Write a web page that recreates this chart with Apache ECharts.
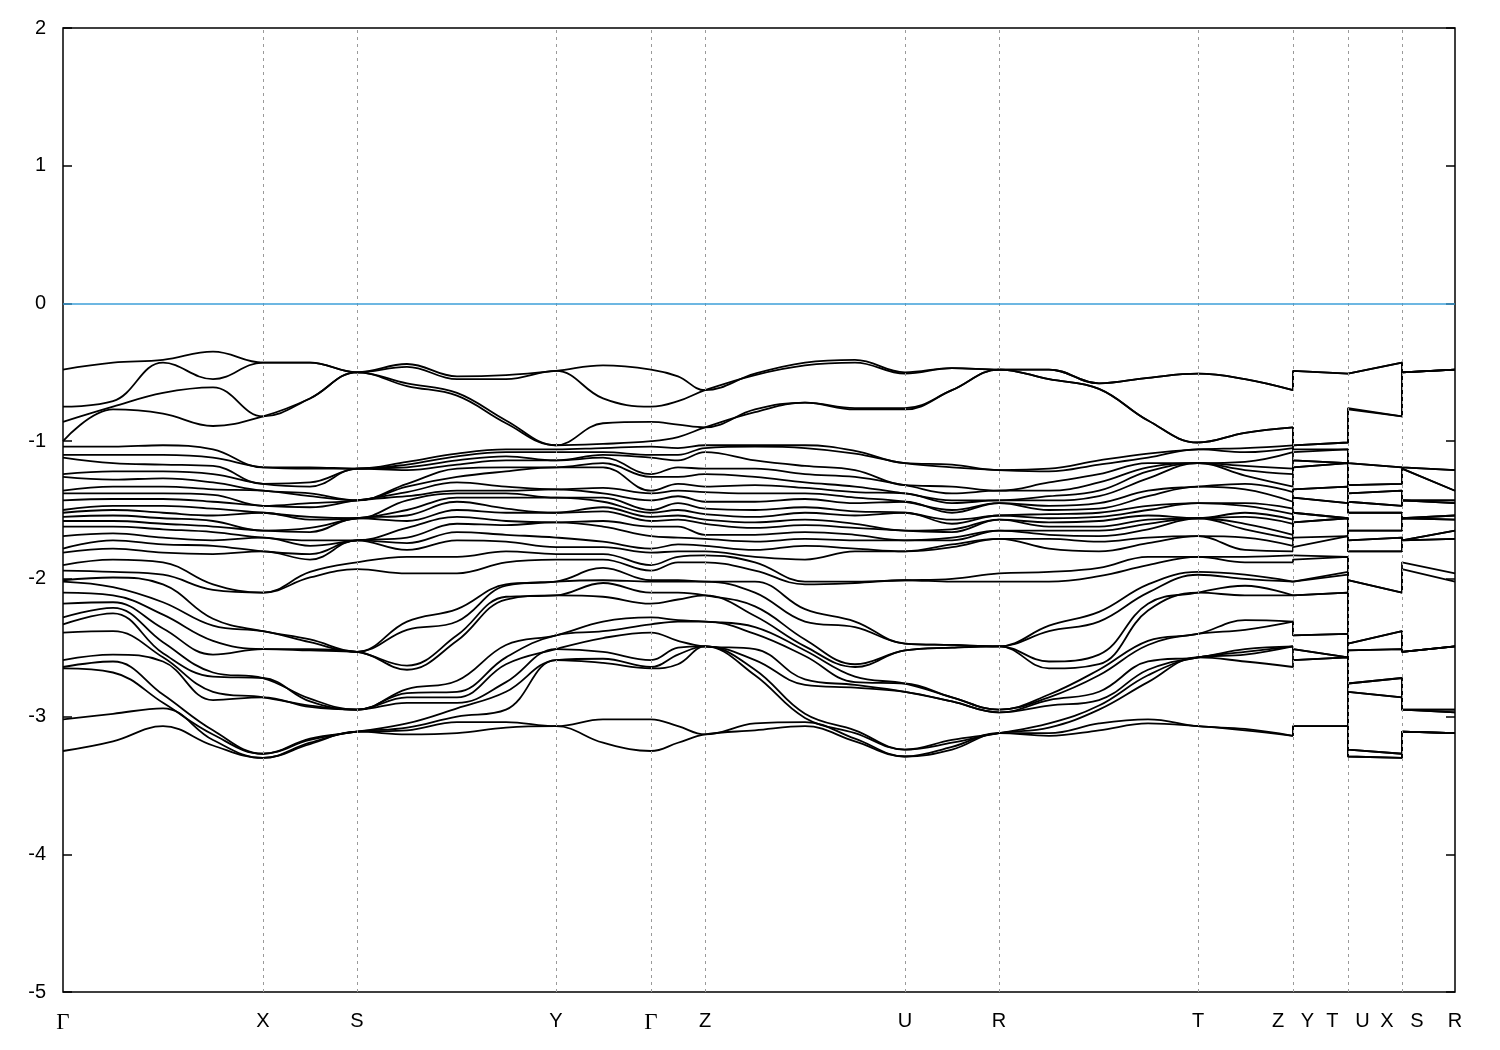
<!DOCTYPE html>
<html><head><meta charset="utf-8">
<script src="https://cdn.jsdelivr.net/npm/echarts@6/dist/echarts.min.js"></script>
<style>html,body{margin:0;padding:0;background:#fff}#c{width:1500px;height:1050px}</style>
</head><body><div id="c"></div>
<script>
// high-symmetry points along the k-path
const kTicks = [0, 200, 294, 493, 588, 642, 842, 936, 1135, 1230, 1285, 1339, 1392];
const tickLabels = ['Γ', 'X', 'S', 'Y', 'Γ', 'Z', 'U', 'R', 'T', 'Z|Y', 'T|U', 'X|S', 'R'];
// k positions of the sampled points on the continuous path Γ-X-S-Y-Γ-Z-U-R-T-Z
const kMain = [0, 50, 100, 150, 200, 247, 294, 344, 394, 443, 493, 540, 588, 615, 642, 692, 742, 792, 842, 889, 936, 986, 1036, 1085, 1135, 1182, 1230];

// band energies (eV) at each sampled k point, bands sorted from top to bottom
const e00 = [-0.48,-0.75,-0.86,-1.00, -1.04,-1.10,-1.12,-1.24,-1.26,-1.36,-1.38,-1.43,-1.50,-1.52,-1.55,-1.58,-1.62,-1.69,-1.78,-1.81, -1.90,-1.94,-2.01,-2.02,-2.10,-2.18,-2.28,-2.33,-2.39,-2.59,-2.64,-2.65,-3.02,-3.25];
const e01 = [-0.43,-0.71,-0.75,-0.77, -1.04,-1.10,-1.16,-1.22,-1.28,-1.33,-1.38,-1.42,-1.47,-1.50,-1.54,-1.58,-1.62,-1.67,-1.72,-1.78, -1.86,-1.95,-1.99,-2.06,-2.12,-2.17,-2.21,-2.25,-2.38,-2.55,-2.60,-2.68,-2.98,-3.18];
const e02 = [-0.41,-0.43,-0.65,-0.80, -1.03,-1.10,-1.17,-1.22,-1.27,-1.33,-1.38,-1.42,-1.47,-1.52,-1.56,-1.60,-1.64,-1.70,-1.75,-1.81, -1.88,-1.97,-2.04,-2.17,-2.26,-2.36,-2.46,-2.54,-2.57,-2.60,-2.84,-2.90,-2.94,-3.07];
const e03 = [-0.35,-0.55,-0.61,-0.89, -1.06,-1.12,-1.18,-1.24,-1.30,-1.35,-1.39,-1.44,-1.49,-1.54,-1.58,-1.62,-1.66,-1.72,-1.76,-1.82, -2.04,-2.08,-2.29,-2.34,-2.45,-2.55,-2.68,-2.71,-2.82,-2.88,-3.10,-3.13,-3.17,-3.21];
const e04 = [-0.43,-0.43,-0.82,-0.82, -1.19,-1.19,-1.31,-1.31,-1.36,-1.36,-1.47,-1.47,-1.52,-1.52,-1.65,-1.65,-1.70,-1.70,-1.80,-1.80, -2.10,-2.10,-2.38,-2.38,-2.51,-2.51,-2.72,-2.72,-2.86,-2.86,-3.27,-3.27,-3.30,-3.30];
const e05 = [-0.43,-0.43,-0.69,-0.69, -1.19,-1.20,-1.30,-1.33,-1.38,-1.40,-1.45,-1.48,-1.55,-1.57,-1.63,-1.66,-1.72,-1.76,-1.82,-1.86, -1.95,-1.99,-2.44,-2.46,-2.51,-2.52,-2.87,-2.89,-2.92,-2.93,-3.16,-3.17,-3.19,-3.20];
const e06 = [-0.50,-0.50,-0.50,-0.50, -1.20,-1.20,-1.20,-1.20,-1.43,-1.43,-1.43,-1.43,-1.56,-1.56,-1.56,-1.56,-1.72,-1.72,-1.72,-1.72, -1.88,-1.93,-2.53,-2.53,-2.53,-2.53,-2.95,-2.95,-2.95,-2.95,-3.11,-3.11,-3.11,-3.11];
const e07 = [-0.44,-0.46,-0.58,-0.60, -1.15,-1.17,-1.19,-1.21,-1.31,-1.33,-1.37,-1.40,-1.43,-1.50,-1.54,-1.58,-1.63,-1.70,-1.74,-1.79, -1.84,-1.96,-2.31,-2.37,-2.63,-2.66,-2.80,-2.83,-2.86,-2.90,-3.05,-3.08,-3.10,-3.13];
const e08 = [-0.53,-0.55,-0.65,-0.67, -1.09,-1.11,-1.14,-1.17,-1.20,-1.26,-1.30,-1.36,-1.38,-1.41,-1.44,-1.50,-1.55,-1.60,-1.66,-1.72, -1.84,-1.96,-2.22,-2.31,-2.41,-2.45,-2.74,-2.82,-2.86,-2.90,-2.94,-3.00,-3.04,-3.12];
const e09 = [-0.52,-0.55,-0.85,-0.87, -1.06,-1.08,-1.11,-1.14,-1.19,-1.22,-1.33,-1.36,-1.38,-1.41,-1.49,-1.52,-1.58,-1.61,-1.68,-1.73, -1.80,-1.88,-2.04,-2.05,-2.13,-2.15,-2.48,-2.57,-2.62,-2.75,-2.82,-2.95,-3.04,-3.08];
const e10 = [-0.49,-0.49,-1.03,-1.03, -1.06,-1.08,-1.14,-1.14,-1.19,-1.19,-1.35,-1.35,-1.41,-1.41,-1.52,-1.52,-1.59,-1.59,-1.70,-1.77, -1.82,-1.86,-2.02,-2.02,-2.12,-2.12,-2.41,-2.41,-2.51,-2.51,-2.59,-2.59,-3.07,-3.07];
const e11 = [-0.45,-0.69,-0.87,-1.02, -1.05,-1.08,-1.10,-1.12,-1.16,-1.19,-1.34,-1.38,-1.41,-1.44,-1.48,-1.51,-1.58,-1.62,-1.73,-1.77, -1.82,-1.86,-1.92,-2.01,-2.03,-2.13,-2.31,-2.38,-2.43,-2.53,-2.58,-2.61,-3.02,-3.19];
const e12 = [-0.48,-0.75,-0.86,-1.00, -1.04,-1.10,-1.12,-1.24,-1.26,-1.36,-1.38,-1.43,-1.50,-1.52,-1.55,-1.58,-1.62,-1.69,-1.78,-1.81, -1.90,-1.94,-2.01,-2.02,-2.10,-2.18,-2.28,-2.33,-2.39,-2.59,-2.64,-2.65,-3.02,-3.25];
const e13 = [-0.53,-0.71,-0.88,-0.97, -1.05,-1.10,-1.14,-1.19,-1.26,-1.31,-1.36,-1.40,-1.45,-1.50,-1.54,-1.57,-1.62,-1.70,-1.75,-1.80, -1.84,-1.88,-2.01,-2.02,-2.10,-2.15,-2.30,-2.31,-2.45,-2.50,-2.55,-2.62,-3.07,-3.19];
const e14 = [-0.63,-0.63,-0.90,-0.90, -1.03,-1.05,-1.08,-1.20,-1.24,-1.33,-1.37,-1.44,-1.49,-1.53,-1.57,-1.60,-1.68,-1.71,-1.76,-1.80, -1.83,-1.88,-2.02,-2.02,-2.12,-2.12,-2.31,-2.31,-2.49,-2.49,-2.49,-2.49,-3.13,-3.13];
const e15 = [-0.51,-0.52,-0.77,-0.79, -1.03,-1.04,-1.14,-1.20,-1.26,-1.32,-1.38,-1.44,-1.50,-1.55,-1.59,-1.63,-1.68,-1.73,-1.79,-1.84, -1.88,-1.94,-2.02,-2.10,-2.20,-2.27,-2.35,-2.40,-2.51,-2.59,-2.66,-2.70,-3.05,-3.10];
const e16 = [-0.43,-0.45,-0.72,-0.72, -1.03,-1.05,-1.18,-1.24,-1.30,-1.34,-1.38,-1.42,-1.48,-1.52,-1.57,-1.61,-1.66,-1.71,-1.76,-1.86, -2.02,-2.04,-2.22,-2.31,-2.44,-2.49,-2.52,-2.56,-2.73,-2.77,-2.98,-3.01,-3.04,-3.07];
const e17 = [-0.41,-0.43,-0.76,-0.77, -1.07,-1.09,-1.21,-1.26,-1.33,-1.37,-1.41,-1.45,-1.51,-1.54,-1.60,-1.63,-1.68,-1.72,-1.78,-1.80, -2.02,-2.03,-2.31,-2.35,-2.62,-2.64,-2.71,-2.75,-2.77,-2.79,-3.10,-3.12,-3.16,-3.18];
const e18 = [-0.50,-0.51,-0.76,-0.77, -1.16,-1.16,-1.32,-1.32,-1.38,-1.38,-1.44,-1.44,-1.52,-1.52,-1.65,-1.65,-1.72,-1.72,-1.80,-1.80, -2.01,-2.01,-2.47,-2.47,-2.52,-2.52,-2.76,-2.76,-2.82,-2.82,-3.24,-3.24,-3.29,-3.29];
const e19 = [-0.47,-0.47,-0.63,-0.63, -1.17,-1.19,-1.33,-1.38,-1.43,-1.45,-1.50,-1.52,-1.57,-1.60,-1.64,-1.66,-1.70,-1.72,-1.75,-1.77, -2.00,-2.02,-2.48,-2.48,-2.50,-2.50,-2.86,-2.86,-2.89,-2.89,-3.17,-3.19,-3.22,-3.24];
const e20 = [-0.48,-0.48,-0.48,-0.48, -1.21,-1.21,-1.36,-1.36,-1.43,-1.43,-1.45,-1.45,-1.54,-1.54,-1.57,-1.57,-1.65,-1.65,-1.71,-1.71, -1.96,-2.02,-2.49,-2.49,-2.49,-2.49,-2.95,-2.95,-2.97,-2.97,-3.12,-3.12,-3.12,-3.12];
const e21 = [-0.48,-0.48,-0.55,-0.55, -1.20,-1.22,-1.30,-1.36,-1.40,-1.43,-1.47,-1.50,-1.53,-1.56,-1.59,-1.62,-1.65,-1.68,-1.71,-1.78, -1.95,-2.02,-2.34,-2.38,-2.60,-2.65,-2.84,-2.86,-2.88,-2.92,-3.05,-3.08,-3.12,-3.14];
const e22 = [-0.58,-0.58,-0.62,-0.62, -1.14,-1.17,-1.24,-1.30,-1.36,-1.40,-1.45,-1.49,-1.52,-1.55,-1.58,-1.62,-1.65,-1.69,-1.73,-1.80, -1.92,-1.98,-2.24,-2.31,-2.55,-2.62,-2.66,-2.70,-2.82,-2.88,-2.92,-2.95,-3.05,-3.10];
const e23 = [-0.54,-0.54,-0.85,-0.85, -1.09,-1.12,-1.16,-1.19,-1.22,-1.27,-1.36,-1.40,-1.47,-1.50,-1.54,-1.57,-1.60,-1.64,-1.70,-1.74, -1.84,-1.90,-2.04,-2.10,-2.18,-2.23,-2.45,-2.48,-2.60,-2.66,-2.70,-2.75,-3.02,-3.05];
const e24 = [-0.51,-0.51,-1.01,-1.01, -1.06,-1.06,-1.16,-1.16,-1.16,-1.16,-1.33,-1.33,-1.45,-1.45,-1.56,-1.56,-1.56,-1.56,-1.69,-1.69, -1.84,-1.84,-1.95,-1.97,-2.10,-2.10,-2.40,-2.40,-2.57,-2.57,-2.57,-2.57,-3.07,-3.07];
const e25 = [-0.55,-0.55,-0.94,-0.94, -1.05,-1.08,-1.15,-1.18,-1.21,-1.25,-1.31,-1.35,-1.45,-1.47,-1.52,-1.55,-1.60,-1.64,-1.70,-1.79, -1.84,-1.88,-1.97,-2.00,-2.05,-2.12,-2.30,-2.37,-2.51,-2.53,-2.55,-2.60,-3.09,-3.10];
const e26 = [-0.63,-0.63,-0.90,-0.90, -1.03,-1.05,-1.08,-1.20,-1.24,-1.33,-1.37,-1.44,-1.49,-1.53,-1.57,-1.60,-1.68,-1.71,-1.76,-1.80, -1.83,-1.88,-2.02,-2.02,-2.12,-2.12,-2.31,-2.31,-2.49,-2.49,-2.49,-2.64,-3.14,-3.14];

const mainPath = [e00,e01,e02,e03,e04,e05,e06,e07,e08,e09,e10,e11,e12,e13,e14,e15,e16,e17,e18,e19,e20,e21,e22,e23,e24,e25,e26];
// broken part of the path: Z | Y-T | U-X | S-R (end points are the same k points as above)
const kRight = [1230, 1230, 1285, 1285, 1339, 1339, 1392];
const rightPath = [e26, e10, e24, e18, e04, e06, e20];
const nBands = e00.length;

const series = [];
series.push({
  type: 'line', data: [[0, -10]], symbol: 'none', silent: true, z: 1,
  lineStyle: { opacity: 0 },
  markLine: {
    silent: true, symbol: ['none', 'none'], label: { show: false },
    data: [
      ...kTicks.slice(1, -1).map(k => ({ xAxis: k, lineStyle: { color: '#9a9a9a', type: [3, 4], width: 1 } })),
      { yAxis: 0, lineStyle: { color: '#3d9fd8', type: 'solid', width: 1.5 } }
    ]
  }
});
for (let b = 0; b < nBands; b++) {
  series.push({
    type: 'line', symbol: 'none', smooth: 0.4, z: 3, silent: true,
    lineStyle: { color: '#000', width: 1.8 },
    data: kMain.map((k, j) => [k, mainPath[j][b]])
  });
  series.push({
    type: 'line', symbol: 'none', smooth: false, z: 3, silent: true,
    lineStyle: { color: '#000', width: 1.8 },
    data: kRight.map((k, j) => [k, rightPath[j][b]])
  });
}

const chart = echarts.init(document.getElementById('c'), null, { renderer: 'canvas' });
chart.setOption({
  animation: false,
  backgroundColor: '#fff',
  grid: { left: 63, right: 45, top: 28, bottom: 58, show: true, borderColor: '#000', borderWidth: 1.5, containLabel: false },
  xAxis: {
    type: 'value', min: 0, max: 1392,
    axisLine: { show: false }, splitLine: { show: false },
    axisTick: { show: false },
    axisLabel: {
      customValues: kTicks, showMinLabel: true, showMaxLabel: true,
      margin: 19, color: '#000', fontSize: 20, fontFamily: 'Liberation Sans',
      formatter: v => {
        const i = kTicks.indexOf(v);
        const t = i >= 0 ? tickLabels[i] : '';
        if (t === 'Γ') return '{g|Γ}';
        return t.replace('|', '   ');
      },
      rich: { g: { fontFamily: 'Liberation Serif', fontSize: 23, color: '#000' } }
    }
  },
  yAxis: [{
    type: 'value', min: -5, max: 2, interval: 1, position: 'left',
    axisLine: { show: false }, splitLine: { show: false },
    axisTick: { show: true, inside: true, length: 9, lineStyle: { color: '#000', width: 1.5 } },
    axisLabel: { margin: 17, color: '#000', fontSize: 20, fontFamily: 'Liberation Sans' }
  }, {
    type: 'value', min: -5, max: 2, interval: 1, position: 'right',
    axisLine: { show: false }, splitLine: { show: false },
    axisTick: { show: true, inside: true, length: 9, lineStyle: { color: '#000', width: 1.5 } },
    axisLabel: { show: false }
  }],
  series
});
</script>
</body></html>
